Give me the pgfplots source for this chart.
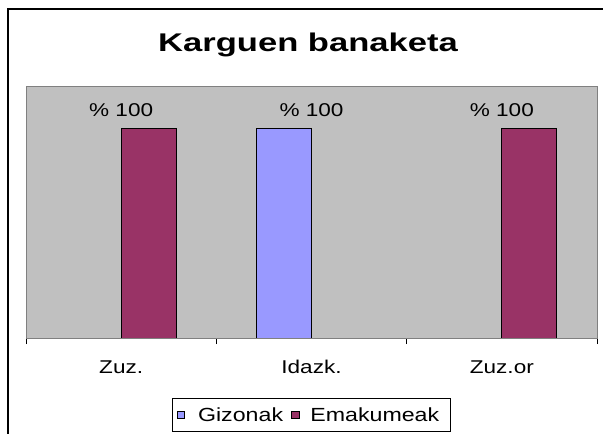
\documentclass[border=0pt]{standalone}
\usepackage{pgfplots}
\pgfplotsset{compat=1.18}
\usepackage{fontspec}
\setmainfont{Liberation Sans}[FakeStretch=1.22]
\newfontfamily\titlefont{Liberation Sans}[FakeStretch=1.35]
\definecolor{giz}{HTML}{9999FF}
\definecolor{ema}{HTML}{993366}
\definecolor{plotbg}{HTML}{C0C0C0}
\definecolor{plotborder}{HTML}{808080}
\newcommand{\lblfont}{\fontsize{18.5bp}{22bp}\selectfont}
\newcommand{\legfont}{\fontsize{19bp}{22bp}\selectfont}
\begin{document}
\begin{tikzpicture}
\draw[line width=1.3bp, black] (8bp,-5bp) -- (8bp,425bp) -- (615bp,425bp);
\node[anchor=base, inner sep=0pt] at (308bp,382bp) {\titlefont\fontsize{25.6bp}{30bp}\selectfont\bfseries Karguen banaketa};
\begin{axis}[
  at={(26bp,96bp)}, anchor=south west,
  scale only axis, width=571bp, height=251bp,
  xmin=-0.5, xmax=2.5, ymin=0, ymax=120,
  axis background/.style={fill=plotbg},
  axis line style={plotborder, line width=1bp},
  ytick=\empty,
  xtick={0,1,2},
  xticklabels={Zuz., Idazk., Zuz.or},
  major tick length=0pt,
  minor xtick={-0.5,0.5,1.5,2.5},
  minor tick length=6bp,
  tick align=outside,
  xtick pos=bottom,
  minor tick style={black, line width=1bp},
  xticklabel style={font=\lblfont, anchor=base, yshift=-35bp, inner sep=0pt},
  ybar, bar width=55bp,
  nodes near coords={\%~100},
  every node near coord/.style={font=\lblfont, anchor=base, yshift=12.8bp, inner sep=0pt, black},
  legend columns=2,
  legend cell align=left,
  legend style={at={(0.5,-0.307)}, anchor=center, draw=black, line width=1bp,
    font=\legfont, inner xsep=4bp, inner ysep=9bp,
    nodes={inner sep=0pt}},
  legend image code/.code={\draw[#1, draw=black, line width=0.8bp] (0bp,-3.75bp) rectangle (7.5bp,3.75bp);},
]
\addplot[fill=giz, draw=black, line width=1bp, bar shift=-27.5bp] coordinates {(1,100)};
\addlegendentry{\hspace*{13bp}Gizonak\hspace*{8bp}}
\addplot[fill=ema, draw=black, line width=1bp, bar shift=27.5bp] coordinates {(0,100) (2,100)};
\addlegendentry{\hspace*{11bp}Emakumeak\hspace*{7bp}}
\draw[black, line width=1bp] (rel axis cs:0,0) -- (rel axis cs:1,0);
\end{axis}
\pgfresetboundingbox
\useasboundingbox (0,0) rectangle (603bp,434bp);
\end{tikzpicture}
\end{document}
